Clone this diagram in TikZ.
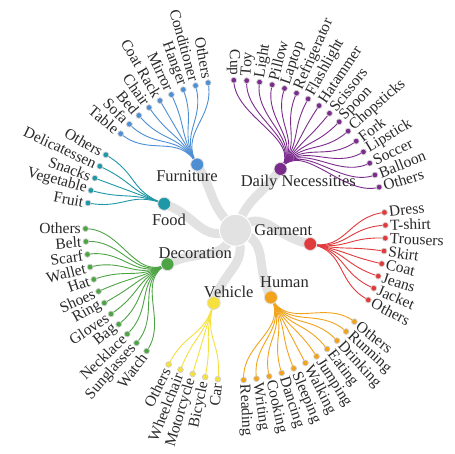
\documentclass[tikz,border=0pt]{standalone}
\usepackage{fontspec}
\setmainfont{Liberation Serif}
\usetikzlibrary{calc}
\definecolor{cFur}{HTML}{4D8ED5}
\definecolor{cDai}{HTML}{7B2B8C}
\definecolor{cGar}{HTML}{E03A3C}
\definecolor{cHum}{HTML}{F2A31C}
\definecolor{cVeh}{HTML}{F6E03E}
\definecolor{cDec}{HTML}{4EA445}
\definecolor{cFoo}{HTML}{1E97A6}
\definecolor{cBand}{HTML}{E2E2E2}
\definecolor{cText}{HTML}{2A2A2A}
\pgfdeclarelayer{paper}
\pgfdeclarelayer{bands}
\pgfdeclarelayer{links}
\pgfsetlayers{paper,bands,links,main}
\tikzset{
  leafdot/.style={circle, inner sep=0pt, minimum size=5.8pt, draw=black!18, line width=0.7pt},
  catdot/.style={circle, inner sep=0pt, minimum size=13pt, draw=black!12, line width=0.8pt},
  rootdot/.style={circle, inner sep=0pt, minimum size=32pt, fill=cBand, draw=white, line width=1pt},
  leaflabel/.style={inner sep=0pt, text=cText, font=\fontsize{15.5}{16}\selectfont},
  catlabel/.style={inner sep=0pt, text=cText, font=\fontsize{16.5}{17}\selectfont},
  band/.style={draw=cBand, line width=9pt},
  leaflink/.style={line width=0.9pt},
}
\newcommand{\sA}{4.93151}
\newcommand{\oF}{-0.65}
% #1 id, #2 index, #3 label, #4 colour, #5 category id, #6 category tikz angle
\newcommand{\leafnode}[6]{%
  \pgfmathsetmacro{\lth}{#2*\sA+\oF}%
  \pgfmathsetmacro{\lph}{90-\lth}%
  \pgfmathtruncatemacro{\rside}{and(\lth>0,\lth<180)}%
  \node[leafdot, fill=#4] (#1) at ($(O)+(\lph:150)$) {};%
  \ifnum\rside=1
    \node[leaflabel, anchor=west, rotate=\lph] (#1-t) at ($(O)+(\lph:154.5)$) {#3};%
  \else
    \node[leaflabel, anchor=east, rotate=\lph+180] (#1-t) at ($(O)+(\lph:154.5)$) {#3};%
  \fi
  \begin{pgfonlayer}{links}
    \draw[leaflink, #4] (#5.center) .. controls ($(O)+(#6:113)$) and ($(O)+(\lph:113)$) .. (#1.center);
  \end{pgfonlayer}
}
% #1 id, #2 start, #3 n, #4 colour, #5 label, #6 lx, #7 ly, #8 twist, #9 list
\newcommand{\branch}[9]{%
  \pgfmathsetmacro{\cth}{(2*#2+#3-1)/2*\sA+\oF}%
  \pgfmathsetmacro{\cph}{90-\cth}%
  \node[catdot, fill=#4] (#1) at ($(O)+(\cph:76)$) {};%
  \node[catlabel] (#1-t) at (#6,454-#7) {#5};%
  \begin{pgfonlayer}{bands}
    \draw[band] (root.center) .. controls ($(O)+(\cph+#8:38)$) and ($(O)+(\cph:38)$) .. (#1.center);
  \end{pgfonlayer}
  \foreach \lbl [count=\k from 0] in {#9} {%
    \pgfmathtruncatemacro{\idx}{#2+\k}%
    \leafnode{#1-\k}{\idx}{\lbl}{#4}{#1}{\cph}%
  }%
}
\begin{document}
\begin{tikzpicture}[x=1pt,y=1pt]
\useasboundingbox (0,0) rectangle (455,454);
\begin{pgfonlayer}{paper}
\fill[white] (0,0) rectangle (455,454);
\end{pgfonlayer}
\coordinate (O) at (235.5,223.8);
\node[rootdot] (root) at (O) {};
\branch{Dai}{0}{16}{cDai}{Daily Necessities}{298.3}{182.7}{15}{Cup,Toy,Light,Pillow,Laptop,Refrigerator,Flashlight,Hatammer,Scissors,Spoon,Chopsticks,Fork,Lipstick,Soccer,Balloon,Others}
\branch{Gar}{17}{8}{cGar}{Garment}{283.3}{230}{50}{Dress,T-shirt,Trousers,Skirt,Coat,Jeans,Jacket,Others}
\branch{Hum}{26}{11}{cHum}{Human}{284.5}{281.7}{45}{Others,Running,Drinking,Eating,Jumping,Walking,Sleeping,Dancing,Cooking,Writing,Reading}
\branch{Veh}{38}{5}{cVeh}{Vehicle}{228.7}{291.5}{40}{Car,Bicycle,Motorcycle,Wheelchair,Others}
\branch{Dec}{44}{12}{cDec}{Decoration}{195.3}{253}{40}{Watch,Sunglasses,Necklace,Bag,Gloves,Ring,Shoes,Hat,Wallet,Scarf,Belt,Others}
\branch{Foo}{57}{5}{cFoo}{Food}{169}{219.5}{40}{Fruit,Vegetable,Snacks,Delicatessen,Others}
\branch{Fur}{63}{9}{cFur}{Furniture}{187}{176.5}{15}{Table,Sofa,Bed,Chair,Coat Rack,Mirror,Hanger,Conditioner,Others}
\end{tikzpicture}
\end{document}
